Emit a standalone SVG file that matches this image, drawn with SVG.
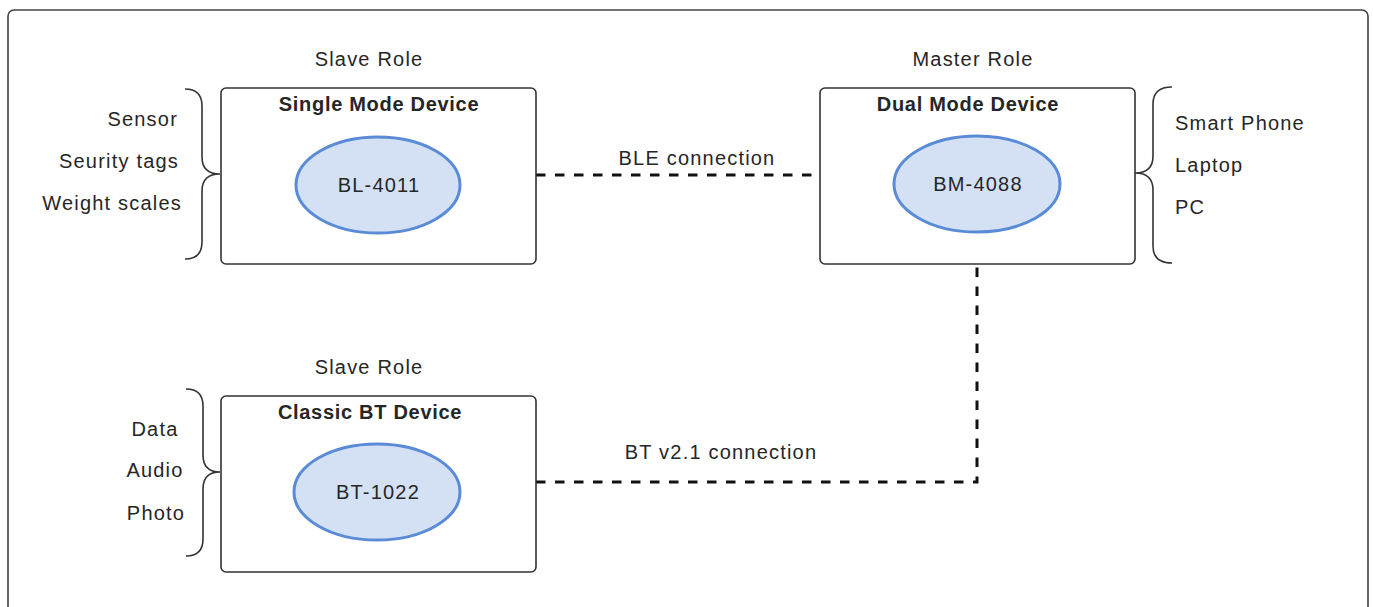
<svg xmlns="http://www.w3.org/2000/svg" width="1373" height="607" viewBox="0 0 1373 607">
  <style>
    .frame { fill: #ffffff; stroke: #444444; stroke-width: 1.6; }
    .box { fill: #ffffff; stroke: #333333; stroke-width: 1.6; }
    .chip { fill: #d4e1f5; stroke: #5a8bd6; stroke-width: 3; }
    .brace { fill: none; stroke: #333333; stroke-width: 1.6; }
    .link { fill: none; stroke: #111111; stroke-width: 3; stroke-dasharray: 9.5 9.5; }
    text { font-family: "Liberation Sans", Arial, sans-serif; font-size: 20px; fill: #262626; letter-spacing: 1.2px; }
    .title { font-weight: bold; letter-spacing: 0.7px; }
    .mid { text-anchor: middle; }
    .end { text-anchor: end; }
  </style>

  <rect class="frame" x="8" y="10" width="1360" height="640" rx="6"/>

  <!-- connectors -->
  <g id="connectors">
    <path class="link" d="M536,175 L820,175"/>
    <path class="link" d="M536,482 L977,482 L977,264"/>
    <text class="mid" x="697" y="165">BLE connection</text>
    <text class="mid" x="721" y="459">BT v2.1 connection</text>
  </g>

  <!-- single mode device (slave) -->
  <g id="single-mode">
    <text class="mid" x="369" y="66">Slave Role</text>
    <rect class="box" x="221" y="88" width="315" height="176" rx="5"/>
    <text class="mid title" x="379" y="111">Single Mode Device</text>
    <ellipse class="chip" cx="378" cy="185" rx="82" ry="48"/>
    <text class="mid" x="379" y="192">BL-4011</text>
    <path class="brace" d="M185,89 Q202,89 202,106 L202,157 Q202,174 220,174 Q202,174 202,191 L202,242 Q202,259 185,259"/>
    <text class="end" x="178" y="126">Sensor</text>
    <text class="end" x="179" y="168">Seurity tags</text>
    <text class="end" x="182" y="210">Weight scales</text>
  </g>

  <!-- dual mode device (master) -->
  <g id="dual-mode">
    <text class="mid" x="973" y="66">Master Role</text>
    <rect class="box" x="820" y="88" width="315" height="176" rx="5"/>
    <text class="mid title" x="968" y="111">Dual Mode Device</text>
    <ellipse class="chip" cx="977" cy="184" rx="83" ry="48"/>
    <text class="mid" x="978" y="191">BM-4088</text>
    <path class="brace" d="M1172,87 Q1153,87 1153,104 L1153,156 Q1153,173 1135,173 Q1153,173 1153,190 L1153,246 Q1153,263 1172,263"/>
    <text x="1175" y="130">Smart Phone</text>
    <text x="1175" y="172">Laptop</text>
    <text x="1175" y="214">PC</text>
  </g>

  <!-- classic BT device (slave) -->
  <g id="classic-bt">
    <text class="mid" x="369" y="374">Slave Role</text>
    <rect class="box" x="221" y="396" width="315" height="176" rx="5"/>
    <text class="mid title" x="370" y="419">Classic BT Device</text>
    <ellipse class="chip" cx="377" cy="492" rx="83" ry="48"/>
    <text class="mid" x="378" y="499">BT-1022</text>
    <path class="brace" d="M186,389 Q203,389 203,406 L203,455 Q203,472 220,472 Q203,472 203,489 L203,539 Q203,556 186,556"/>
    <text class="mid" x="155" y="436">Data</text>
    <text class="mid" x="155" y="477">Audio</text>
    <text class="mid" x="156" y="520">Photo</text>
  </g>
</svg>
